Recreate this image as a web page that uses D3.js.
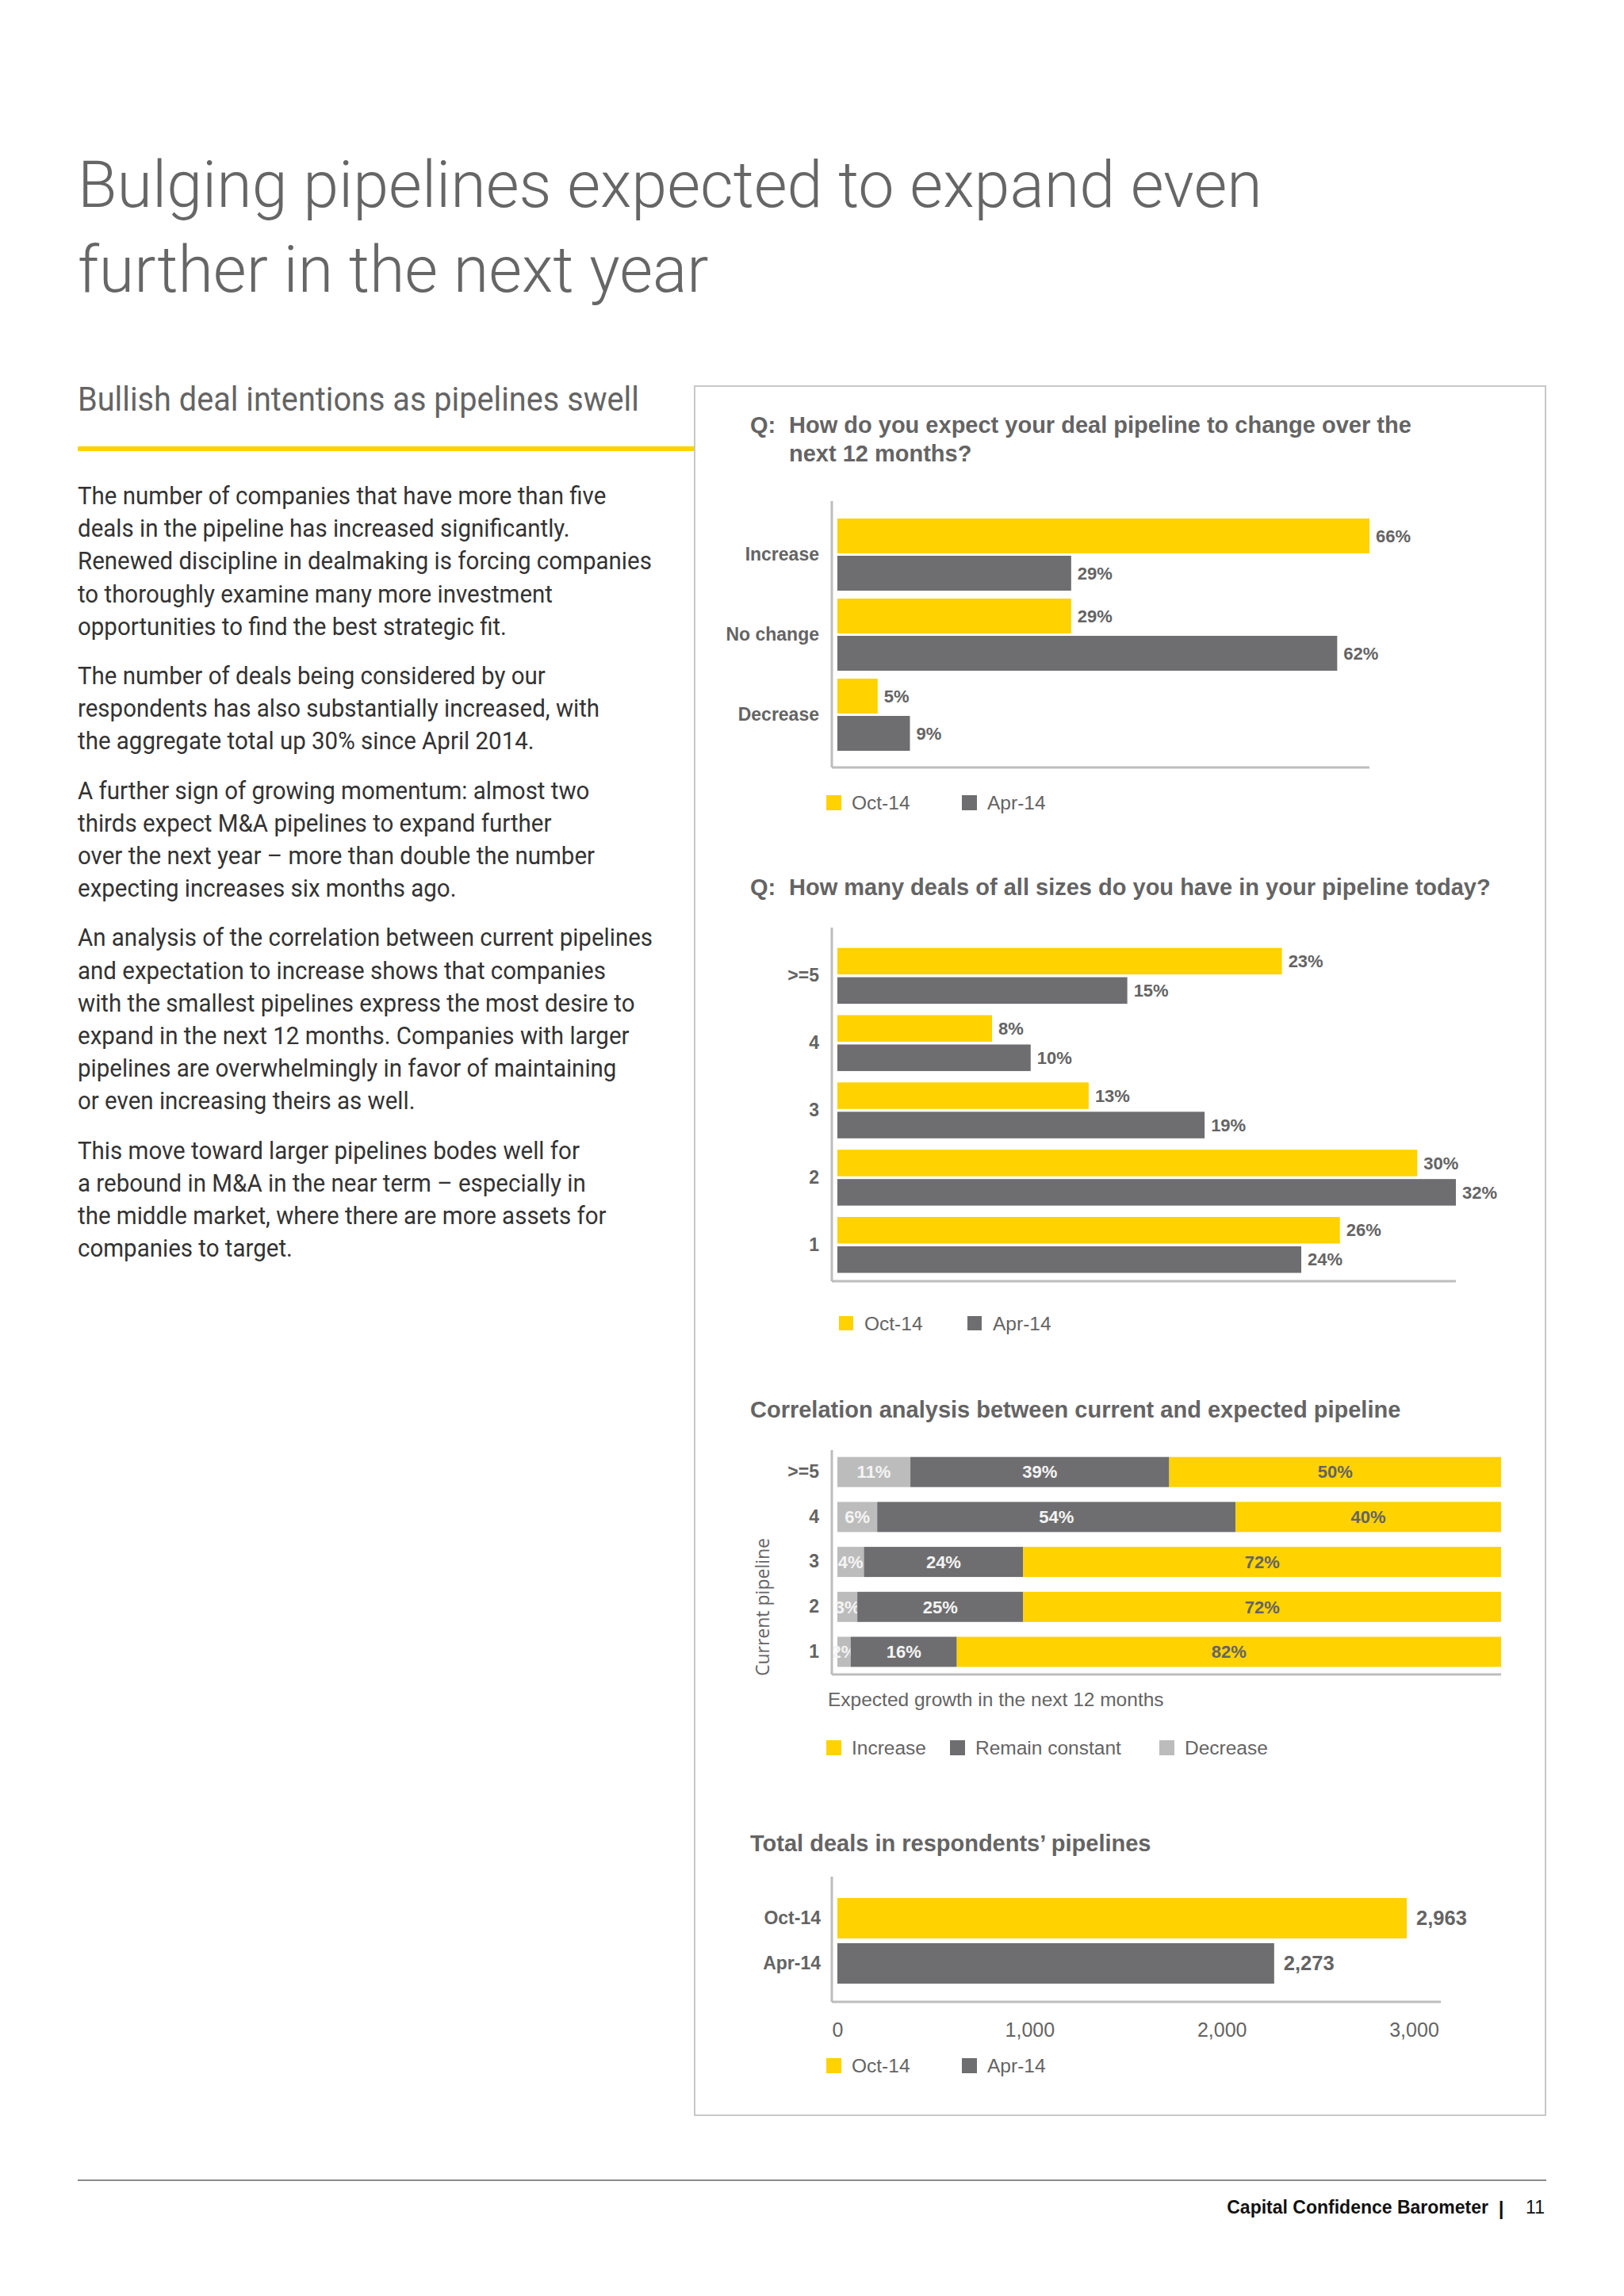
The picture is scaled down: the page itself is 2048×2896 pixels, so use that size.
<!DOCTYPE html>
<html>
<head>
<meta charset="utf-8">
<script src="https://cdn.jsdelivr.net/npm/d3@7"></script>
<style>
  body { margin: 0; background: #fff; }
  svg { display: block; }
</style>
</head>
<body>
<svg id="page" width="2048" height="2896"></svg>
<script>
// ---- data ----
const seriesNames = ['Oct-14', 'Apr-14']

const changeCategories = ['Increase', 'No change', 'Decrease']
const changeOct14 = [66, 29, 5]
const changeApr14 = [29, 62, 9]

const dealCategories = ['>=5', '4', '3', '2', '1']
const dealOct14 = [23, 8, 13, 30, 26]
const dealApr14 = [15, 10, 19, 32, 24]

const corrCategories = ['>=5', '4', '3', '2', '1']
const corrKeys = ['Decrease', 'Remain constant', 'Increase']
const corrDecrease = [11, 6, 4, 3, 2]
const corrRemain = [39, 54, 24, 25, 16]
const corrIncrease = [50, 40, 72, 72, 82]
const corrLegend = ['Increase', 'Remain constant', 'Decrease']

const totalCategories = ['Oct-14', 'Apr-14']
const totalDeals = [2963, 2273]
const totalTicks = [0, 1000, 2000, 3000]

const titleLines = ['Bulging pipelines expected to expand even', 'further in the next year']
const paragraphs = [
  ['The number of companies that have more than five',
   'deals in the pipeline has increased significantly.',
   'Renewed discipline in dealmaking is forcing companies',
   'to thoroughly examine many more investment',
   'opportunities to find the best strategic fit.'],
  ['The number of deals being considered by our',
   'respondents has also substantially increased, with',
   'the aggregate total up 30% since April 2014.'],
  ['A further sign of growing momentum: almost two',
   'thirds expect M&A pipelines to expand further',
   'over the next year \u2013 more than double the number',
   'expecting increases six months ago.'],
  ['An analysis of the correlation between current pipelines',
   'and expectation to increase shows that companies',
   'with the smallest pipelines express the most desire to',
   'expand in the next 12 months. Companies with larger',
   'pipelines are overwhelmingly in favor of maintaining',
   'or even increasing theirs as well.'],
  ['This move toward larger pipelines bodes well for',
   'a rebound in M&A in the near term \u2013 especially in',
   'the middle market, where there are more assets for',
   'companies to target.']
]

// ---- styles ----
const colors = {
  yellow: '#ffd200', dark: '#6e6e70', light: '#bcbcbc',
  text: '#646464', axis: '#bdbdbd', body: '#333333'
}
const chartFont = '"Liberation Sans", Arial, sans-serif'
const pageFont = 'Roboto, "Open Sans", sans-serif'
const seriesColor = { 'Oct-14': colors.yellow, 'Apr-14': colors.dark,
  'Increase': colors.yellow, 'Remain constant': colors.dark, 'Decrease': colors.light }

const page = d3.select('#page')
page.append('rect').attr('width', 2048).attr('height', 2896).attr('fill', '#fff')

const plotX = 1056   // bars start
const axisX = 1049   // vertical axis line

// squeeze a block of text horizontally so its reference line gets the target width
function condense(g, refText, x0, target) {
  const w = refText.node().getComputedTextLength()
  const k = target / w
  g.attr('transform', `matrix(${k},0,0,1,${x0 * (1 - k)},0)`)
}

function drawPage() {
  // big title
  let tg = page.append('g')
  let tl = tg.selectAll('text').data(titleLines).enter().append('text')
    .attr('x', 98).attr('y', (d, i) => 261 + i * 107)
    .attr('font-family', pageFont).attr('font-weight', 300).attr('font-size', 82)
    .attr('fill', '#666666').text(d => d)
  condense(tg, d3.select(tl.nodes()[0]), 98, 1494)

  // sub heading
  let hg = page.append('g')
  let h = hg.append('text').attr('x', 98).attr('y', 518)
    .attr('font-family', pageFont).attr('font-size', 42).attr('fill', '#646464')
    .text('Bullish deal intentions as pipelines swell')
  condense(hg, h, 98, 708)

  page.append('line').attr('x1', 98).attr('x2', 876).attr('y1', 566).attr('y2', 566)
    .attr('stroke', colors.yellow).attr('stroke-width', 6)

  // body copy
  let bg = page.append('g')
  let y = 636
  let ref = null
  paragraphs.forEach((p, pi) => {
    p.forEach((line, li) => {
      let t = bg.append('text').attr('x', 98).attr('y', y)
        .attr('font-family', pageFont).attr('font-size', 31)
        .attr('fill', colors.body).text(line)
      if (pi === 0 && li === 2) ref = t
      y += 41.2
    })
    y += 21
  })
  condense(bg, ref, 98, 724)

  // chart frame
  page.append('rect').attr('x', 876).attr('y', 487).attr('width', 1073).attr('height', 2181)
    .attr('fill', 'none').attr('stroke', '#c8c8c8').attr('stroke-width', 2)

  // footer
  page.append('line').attr('x1', 98).attr('x2', 1950).attr('y1', 2750).attr('y2', 2750)
    .attr('stroke', '#8a8a8a').attr('stroke-width', 2)
  page.append('text').attr('x', 1877).attr('y', 2792).attr('text-anchor', 'end')
    .attr('font-family', chartFont).attr('font-weight', 'bold').attr('font-size', 23)
    .attr('fill', '#111').text('Capital Confidence Barometer')
  page.append('text').attr('x', 1893).attr('y', 2794).attr('text-anchor', 'middle')
    .attr('font-family', chartFont).attr('font-weight', 'bold').attr('font-size', 24)
    .attr('fill', '#111').text('|')
  page.append('text').attr('x', 1948).attr('y', 2792).attr('text-anchor', 'end')
    .attr('font-family', chartFont).attr('font-size', 23).attr('fill', '#111').text('11')
}

function chartTitle(lines, baseline, question) {
  if (question) {
    page.append('text').attr('x', 946).attr('y', baseline)
      .attr('font-family', chartFont).attr('font-weight', 'bold').attr('font-size', 29)
      .attr('fill', colors.text).text('Q:')
  }
  lines.forEach((line, i) => {
    page.append('text').attr('x', question ? 995 : 946).attr('y', baseline + i * 36)
      .attr('font-family', chartFont).attr('font-weight', 'bold').attr('font-size', 29)
      .attr('fill', colors.text).text(line)
  })
}

function axisLines(top, bottom, right) {
  page.append('line').attr('x1', axisX).attr('x2', axisX).attr('y1', top).attr('y2', bottom)
    .attr('stroke', colors.axis).attr('stroke-width', 3)
  page.append('line').attr('x1', axisX).attr('x2', right).attr('y1', bottom).attr('y2', bottom)
    .attr('stroke', colors.axis).attr('stroke-width', 3)
}

function categoryAxis(y, dx) {
  page.append('g').attr('transform', `translate(${axisX},0)`)
    .call(d3.axisLeft(y).tickSize(0).tickPadding(dx))
    .call(a => a.select('.domain').remove())
    .attr('font-family', chartFont).attr('font-size', 23).attr('font-weight', 'bold')
    .selectAll('text').attr('fill', colors.text)
}

function legend(items, xs, top, size) {
  let lg = page.append('g')
  items.forEach((name, i) => {
    lg.append('rect').attr('x', xs[i]).attr('y', top).attr('width', size).attr('height', size)
      .attr('fill', seriesColor[name])
    lg.append('text').attr('x', xs[i] + 32).attr('y', top + size / 2).attr('dy', '0.35em')
      .attr('font-family', chartFont).attr('font-size', 24.5).attr('fill', colors.text).text(name)
  })
}

// grouped horizontal bars, two series
function drawPairChart(o) {
  const x = d3.scaleLinear().domain([0, d3.max(o.a.concat(o.b))]).range([plotX, o.xEnd])
  const y = d3.scaleBand().domain(o.cats).range(o.band).paddingInner(o.padIn).paddingOuter(o.padOut)
  const ySub = d3.scaleBand().domain(seriesNames).range([0, y.bandwidth()]).paddingInner(o.subPad)

  const rows = o.cats.map((c, i) => ({ cat: c, vals: [o.a[i], o.b[i]] }))
  const grp = page.append('g').selectAll('g').data(rows).enter().append('g')
    .attr('transform', d => `translate(0,${y(d.cat)})`)
  const bars = grp.selectAll('g').data(d => d.vals.map((v, j) => ({ v, s: seriesNames[j] })))
    .enter().append('g')
  bars.append('rect')
    .attr('x', x(0)).attr('y', d => ySub(d.s))
    .attr('width', d => x(d.v) - x(0)).attr('height', ySub.bandwidth())
    .attr('fill', d => seriesColor[d.s])
  bars.append('text')
    .attr('x', d => x(d.v) + 8).attr('y', d => ySub(d.s) + ySub.bandwidth() / 2).attr('dy', '0.35em')
    .attr('font-family', chartFont).attr('font-weight', 'bold').attr('font-size', 22)
    .attr('fill', colors.text).text(d => d.v + '%')

  axisLines(o.axisTop, o.axisBottom, o.xEnd)
  categoryAxis(y, 16)
  legend(seriesNames, o.legendX, o.legendTop, o.legendSize)
}

function drawCorrelation() {
  chartTitle(['Correlation analysis between current and expected pipeline'], 1788, false)
  const x = d3.scaleLinear().domain([0, 100]).range([plotX, 1893])
  const y = d3.scaleBand().domain(corrCategories).range([1828.35, 2111.85]).paddingInner(0.33).paddingOuter(0.165)

  const table = corrCategories.map((c, i) => ({
    cat: c, 'Decrease': corrDecrease[i], 'Remain constant': corrRemain[i], 'Increase': corrIncrease[i]
  }))
  const stacked = d3.stack().keys(corrKeys)(table)

  const layers = page.append('g').selectAll('g').data(stacked).enter().append('g')
    .attr('fill', d => seriesColor[d.key])
  layers.selectAll('rect').data(d => d).enter().append('rect')
    .attr('x', d => x(d[0])).attr('y', d => y(d.data.cat))
    .attr('width', d => x(d[1]) - x(d[0])).attr('height', y.bandwidth())
  layers.selectAll('text').data(d => d.map(s => Object.assign(s, { key: d.key }))).enter().append('text')
    .attr('x', d => (x(d[0]) + x(d[1])) / 2).attr('y', d => y(d.data.cat) + y.bandwidth() / 2)
    .attr('dy', '0.35em').attr('text-anchor', 'middle')
    .attr('font-family', chartFont).attr('font-weight', 'bold').attr('font-size', 22)
    .attr('fill', d => d.key === 'Increase' ? colors.text : '#f4f4f4')
    .text(d => (d[1] - d[0]) + '%')

  axisLines(1829, 2112, 1893)
  categoryAxis(y, 16)

  page.append('text').attr('transform', 'translate(970,2027) rotate(-90)').attr('text-anchor', 'middle')
    .attr('font-family', '"Open Sans", sans-serif').attr('font-size', 23).attr('fill', colors.text)
    .text('Current pipeline')
  page.append('text').attr('x', 1044).attr('y', 2152)
    .attr('font-family', chartFont).attr('font-size', 24.5).attr('fill', colors.text)
    .text('Expected growth in the next 12 months')
  legend(corrLegend, [1042, 1198, 1462], 2195, 19)
}

function drawTotals() {
  chartTitle(['Total deals in respondents\u2019 pipelines'], 2335, false)
  const x = d3.scaleLinear().domain([0, 3000]).range([plotX, 1783])
  const y = d3.scaleBand().domain(totalCategories).range([2391, 2505]).paddingInner(0.105).paddingOuter(0.0526)
  const rows = totalCategories.map((c, i) => ({ cat: c, v: totalDeals[i] }))

  const g = page.append('g')
  g.selectAll('rect').data(rows).enter().append('rect')
    .attr('x', x(0)).attr('y', d => y(d.cat))
    .attr('width', d => x(d.v) - x(0)).attr('height', y.bandwidth())
    .attr('fill', d => seriesColor[d.cat])
  g.selectAll('text').data(rows).enter().append('text')
    .attr('x', d => x(d.v) + 12).attr('y', d => y(d.cat) + y.bandwidth() / 2).attr('dy', '0.35em')
    .attr('font-family', chartFont).attr('font-weight', 'bold').attr('font-size', 25.5)
    .attr('fill', colors.text).text(d => d3.format(',')(d.v))

  axisLines(2367, 2525, 1817)
  categoryAxis(y, 14)

  page.append('g').attr('transform', 'translate(0,2525)')
    .call(d3.axisBottom(x).tickValues(totalTicks).tickSize(0).tickPadding(26).tickFormat(d3.format(',')))
    .call(a => a.select('.domain').remove())
    .attr('font-family', chartFont).attr('font-size', 25)
    .selectAll('text').attr('fill', colors.text)

  legend(seriesNames, [1042, 1213], 2596, 19)
}

drawPage()

chartTitle(['How do you expect your deal pipeline to change over the', 'next 12 months?'], 546, true)
drawPairChart({
  cats: changeCategories, a: changeOct14, b: changeApr14,
  xEnd: 1727, band: [649, 952], padIn: 0.099, padOut: 0.0495, subPad: 0.064,
  axisTop: 632, axisBottom: 968, legendX: [1042, 1213], legendTop: 1003, legendSize: 19
})

chartTitle(['How many deals of all sizes do you have in your pipeline today?'], 1129, true)
drawPairChart({
  cats: dealCategories, a: dealOct14, b: dealApr14,
  xEnd: 1836, band: [1188.4, 1612.7], padIn: 0.169, padOut: 0.0846, subPad: 0.0946,
  axisTop: 1170, axisBottom: 1616, legendX: [1058, 1220], legendTop: 1660, legendSize: 18
})

drawCorrelation()
drawTotals()
</script>
</body>
</html>
